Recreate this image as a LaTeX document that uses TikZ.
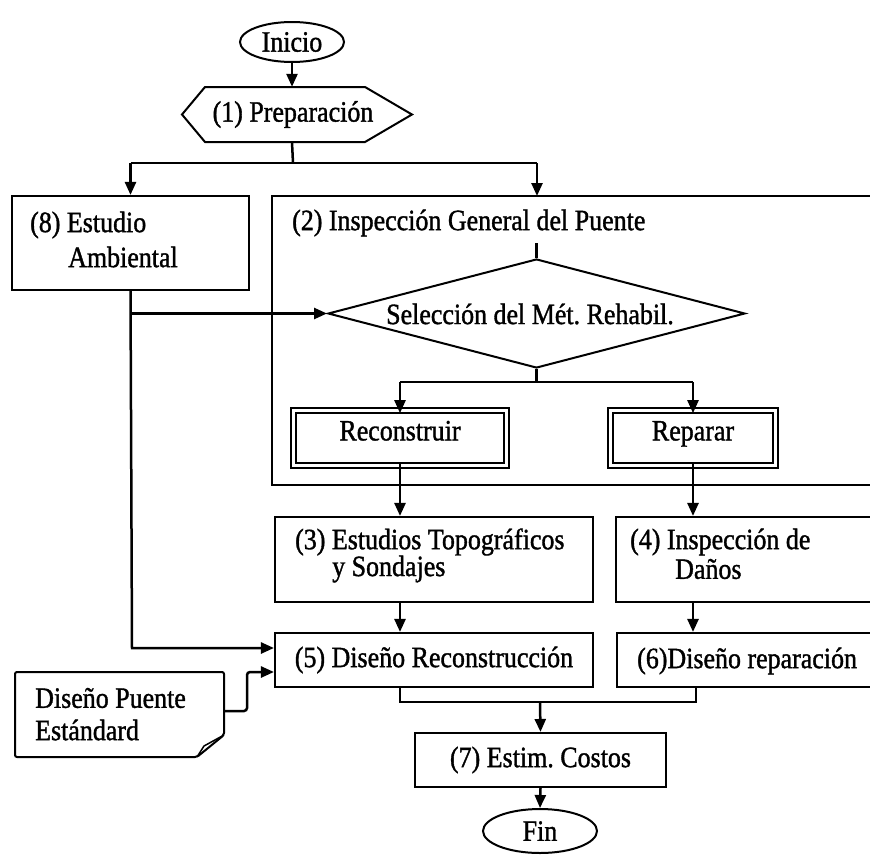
\documentclass[tikz,border=0pt]{standalone}
\usepackage{fontspec}
\setmainfont{Liberation Serif}[FakeStretch=0.88,FakeBold=1.2]
\usetikzlibrary{arrows.meta,shapes.geometric,calc}

\begin{document}
\begin{tikzpicture}[x=1pt,y=-1pt,
  every node/.style={font=\fontsize{29.5}{33}\selectfont\frenchspacing,inner sep=0pt},
  box/.style={draw,line width=2.1pt,rectangle},
  dbox/.style={draw,line width=1.7pt,double=white,double distance=3.2pt,rectangle,
    text height=0.68em,text depth=0.2em},
  term/.style={draw,line width=2pt,ellipse},
  txt/.style={anchor=west},
  ln/.style={line width=2.5pt},
  arr/.style={line width=2.5pt,-{Triangle[length=13pt,width=11pt]}},
]
\useasboundingbox (0,0) rectangle (870,862);
\clip (0,0) rectangle (870,862);

% start / preparation
\node[term,minimum width=104pt,minimum height=40pt] (inicio) at (292,42) {Inicio};
\node[minimum width=230pt,minimum height=55pt] (prep) at (297,114.5) {};
\draw[line width=2pt] (182,114.5) -- (205,87) -- (365,87) -- (412,114.5) -- (365,142) -- (205,142) -- cycle;
\node (prept) at (293,114.5) {(1) Preparación};
\draw[arr] (inicio.south) -- (inicio.south |- prep.north);

% environmental study and general inspection
\node[box,minimum width=237pt,minimum height=94pt] (e8) at (130.5,243) {};
\node[txt] (e8a) at (30,225) {(8) Estudio};
\node[txt] (e8b) at (68,257) {Ambiental};

\node[box,minimum width=628pt,minimum height=289pt] (g2) at (586,340.5) {};
\node[txt] (g2t) at (292,223) {(2) Inspección General del Puente};

\coordinate (split1) at (293,163);
\draw[ln] (inicio.south |- prep.south) -- (split1);
\draw[line width=2pt] (e8.north |- split1) -- (537,163);
\draw[arr] (e8.north |- split1) -- (e8.north);
\draw[arr] (537,163) -- (537,196);

% method selection
\node[draw,line width=2pt,diamond,aspect=3.83,minimum width=417pt,minimum height=109pt] (sel) at (536.5,313.5) {};
\node (selt) at (530,314) {Selección del Mét. Rehabil.};
\coordinate (stub) at (536.5,243);
\draw[ln] (stub) -- (sel.north);

\node[dbox,minimum width=213pt,minimum height=55pt] (recon) at (400,438) {Reconstruir};
\node[dbox,minimum width=165pt,minimum height=55pt] (repar) at (693,438) {Reparar};

\coordinate (split2) at (536.5,382);
\draw[ln] (sel.south) -- (split2);
\draw[line width=2pt] (recon.north |- split2) -- (repar.north |- split2);
\draw[arr] (recon.north |- split2) -- ([yshift=-3.5pt]recon.north);
\draw[arr] (repar.north |- split2) -- ([yshift=-3.5pt]repar.north);

% studies and damage inspection
\node[box,minimum width=318pt,minimum height=85pt] (s3) at (434,559.5) {};
\node[txt] (s3a) at (295,542) {(3) Estudios Topográficos};
\node[txt] (s3b) at (332,569) {y Sondajes};

\node[box,minimum width=284pt,minimum height=85pt] (s4) at (758,559.5) {};
\node[txt] (s4a) at (630,542) {(4) Inspección de};
\node[txt] (s4b) at (675,569) {Daños};

\draw[arr] ([yshift=3.5pt]recon.south) -- (recon.south |- s3.north);
\draw[arr] ([yshift=3.5pt]repar.south) -- (repar.south |- s4.north);

% designs
\node[box,minimum width=318pt,minimum height=54pt] (s5) at (434,660) {(5) Diseño Reconstrucción};
\node[box,minimum width=284pt,minimum height=54pt] (s6) at (759,660) {};
\node[txt] (s6t) at (637,661) {(6)Diseño reparación};

\draw[arr] (recon.south |- s3.south) -- (recon.south |- s5.north);
\draw[arr] (repar.south |- s4.south) -- (repar.south |- s6.north);

% environmental study feeds the selection and the reconstruction design
\coordinate (e8turn) at (132,648);
\draw[arr] (e8.south) -- (e8turn) -- (e8turn -| s5.west);
\draw[arr] (e8.south |- sel.west) -- (sel.west);

% standard bridge design document
\node[minimum width=209pt,minimum height=85pt] (doc) at (119.5,714.5) {};
\draw[line width=2pt,rounded corners=2pt] (15,672) -- (224,672) -- (224,735) -- (197,757) -- (15,757) -- cycle;
\draw[line width=1.5pt] (197,757) -- (204,746) -- (224,735);
\node[txt] (doca) at (35,698) {Diseño Puente};
\node[txt] (docb) at (35,730) {Estándard};
\draw[arr,rounded corners=3pt] (224,711) -- (247,711) -- (247,672) -- (s5.west |- 0,672);

% cost estimate and end
\node[box,minimum width=251pt,minimum height=54pt] (s7) at (540.5,760) {(7) Estim. Costos};
\node[term,minimum width=114pt,minimum height=44pt] (fin) at (540,831) {Fin};

\coordinate (join) at (540,702);
\draw[line width=1.8pt] (recon.south |- s5.south) -- (recon.south |- join) -- (696,702) -- (696,687);
\draw[arr] (join) -- (s7.north);
\draw[arr] (s7.south) -- (fin.north);
\end{tikzpicture}
\end{document}
